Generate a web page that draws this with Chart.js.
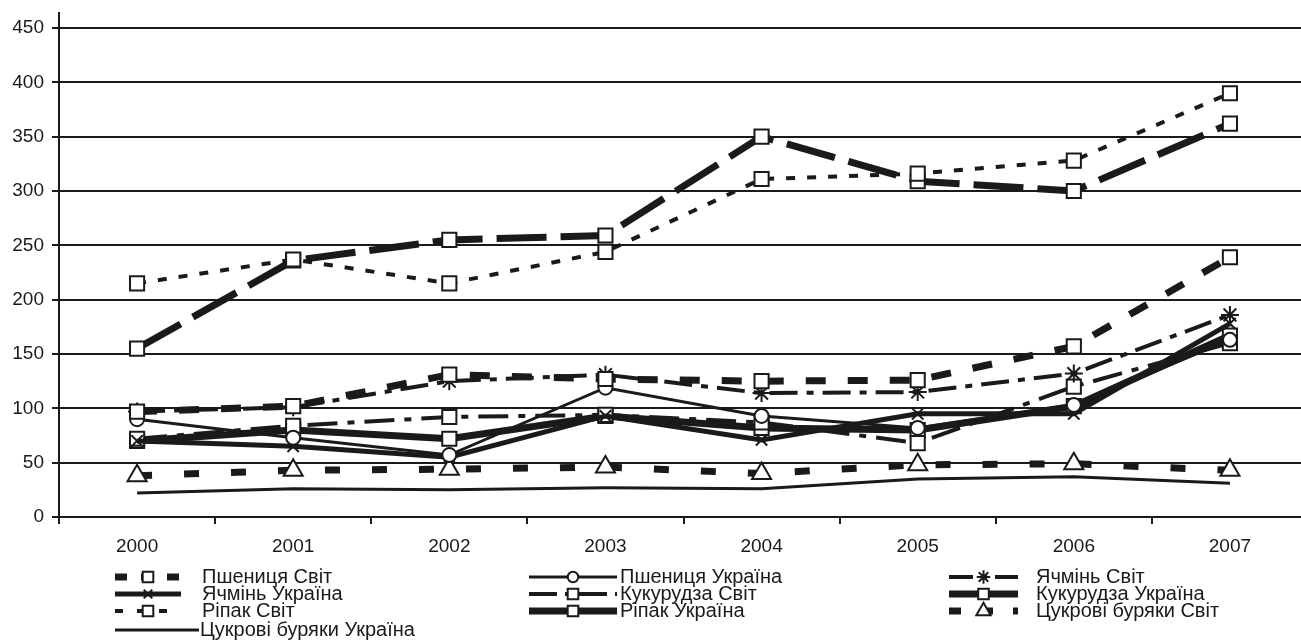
<!DOCTYPE html>
<html>
<head>
<meta charset="utf-8">
<script src="https://cdn.jsdelivr.net/npm/chart.js@4"></script>
<style>
  html, body { margin: 0; padding: 0; background: #fff; overflow: hidden; }
  #wrap { width: 1301px; height: 644px; overflow: hidden; }
</style>
</head>
<body>
<div id="wrap"><canvas id="myChart" width="1321" height="644"></canvas></div>
<script>
const years = ["2000", "2001", "2002", "2003", "2004", "2005", "2006", "2007"];
const yTicks = [0, 50, 100, 150, 200, 250, 300, 350, 400, 450];

const wheatWorld  = [97, 102, 131, 127, 125, 126, 157, 239];
const wheatUa     = [90, 73, 57, 119, 93, 82, 103, 163];
const barleyWorld = [97, 101, 125, 131, 114, 115, 132, 186];
const barleyUa    = [70, 65, 55, 93, 71, 95, 95, 178];
const cornWorld   = [72, 84, 92, 94, 87, 68, 120, 160];
const cornUa      = [70, 80, 72, 93, 82, 80, 102, 167];
const rapeWorld   = [215, 237, 215, 244, 311, 316, 328, 390];
const rapeUa      = [155, 236, 255, 259, 350, 309, 300, 362];
const beetWorld   = [38, 43, 44, 46, 40, 48, 49, 43];
const beetUa      = [22, 26, 25, 27, 26, 35, 37, 31];

const ink = "#1a1a1a";
const font = "'Liberation Sans', Arial, sans-serif";

function series(label, data, width, dash, style, radius) {
  return {
    label: label,
    data: data,
    borderColor: ink,
    borderWidth: width,
    borderDash: dash,
    borderCapStyle: "butt",
    tension: 0,
    fill: false,
    pointStyle: style || false,
    pointRadius: style ? radius : 0,
    pointBackgroundColor: "#fff",
    pointBorderColor: ink,
    pointBorderWidth: 2
  };
}

const datasets = [
  series("Пшениця Світ", wheatWorld, 7, [20, 22], "rect", 10),
  series("Пшениця Україна", wheatUa, 3, [], "circle", 7),
  series("Ячмінь Світ", barleyWorld, 4, [28, 9, 7, 9], "star", 9),
  series("Ячмінь Україна", barleyUa, 5, [], "crossRot", 8),
  series("Кукурудза Світ", cornWorld, 4, [30, 10, 7, 10], "rect", 10),
  series("Кукурудза Україна", cornUa, 7, [], "rect", 10),
  series("Ріпак Світ", rapeWorld, 4, [9, 12], "rect", 10),
  series("Ріпак Україна", rapeUa, 7, [50, 14], "rect", 10),
  series("Цукрові буряки Світ", beetWorld, 7, [15, 32], "triangle", 11),
  series("Цукрові буряки Україна", beetUa, 3, [], null, 0)
];

// legend laid out in three columns like the original
const legendCols = [
  { x0: 115, x1: 181, tx: 202 },
  { x0: 529, x1: 617, tx: 620 },
  { x0: 949, x1: 1018, tx: 1036 }
];
const legendRows = [577, 594, 611, 630];
const legendDash = [[12, 14], [], [24, 8, 6, 8], [], [28, 8, 6, 8], [], [8, 14], [], [12, 20], []];

const legendPlugin = {
  id: "gridLegend",
  afterDraw(chart) {
    const ctx = chart.ctx;
    const area = chart.chartArea;
    ctx.save();
    // y axis runs a little above the top gridline
    ctx.strokeStyle = ink;
    ctx.lineWidth = 2;
    ctx.beginPath();
    ctx.moveTo(area.left, area.top);
    ctx.lineTo(area.left, 12);
    ctx.stroke();

    chart.data.datasets.forEach((ds, i) => {
      const col = legendCols[i % 3];
      const y = legendRows[Math.floor(i / 3)];
      const x1 = i === 9 ? 199 : col.x1;
      ctx.strokeStyle = ink;
      ctx.lineWidth = ds.borderWidth;
      ctx.lineCap = "butt";
      ctx.setLineDash(legendDash[i]);
      ctx.beginPath();
      ctx.moveTo(col.x0, y);
      ctx.lineTo(x1, y);
      ctx.stroke();
      ctx.setLineDash([]);
      if (ds.pointStyle) {
        ctx.fillStyle = "#fff";
        ctx.lineWidth = 2;
        Chart.helpers.drawPoint(ctx, {
          pointStyle: ds.pointStyle,
          radius: ds.pointRadius * 0.75,
          rotation: 0,
          borderWidth: 2
        }, (col.x0 + x1) / 2, y);
      }
      ctx.fillStyle = ink;
      ctx.font = "20px " + font;
      ctx.textBaseline = "middle";
      ctx.textAlign = "left";
      ctx.fillText(ds.label, i === 9 ? 200 : col.tx, y);
    });
    ctx.restore();
  }
};

new Chart(document.getElementById("myChart"), {
  type: "line",
  data: { labels: years, datasets: datasets },
  options: {
    responsive: false,
    animation: false,
    layout: { padding: { top: 28, right: 0, bottom: 82, left: 0 } },
    plugins: { legend: { display: false }, tooltip: { enabled: false } },
    scales: {
      x: {
        offset: true,
        afterFit: s => { s.height = 45; },
        grid: { display: true, drawOnChartArea: false, offset: true, tickLength: 7, color: ink, lineWidth: 2 },
        border: { display: true, color: ink, width: 2 },
        ticks: { color: ink, font: { family: font, size: 19 }, padding: 11, maxRotation: 0 }
      },
      y: {
        min: 0,
        max: 450,
        afterFit: s => { s.width = 59; },
        afterBuildTicks: s => { s.ticks = yTicks.map(v => ({ value: v })); },
        grid: { color: ink, lineWidth: 2, tickLength: 7 },
        border: { display: true, color: ink, width: 2 },
        ticks: { color: ink, font: { family: font, size: 19 }, padding: 8 }
      }
    }
  },
  plugins: [legendPlugin]
});
</script>
</body>
</html>
